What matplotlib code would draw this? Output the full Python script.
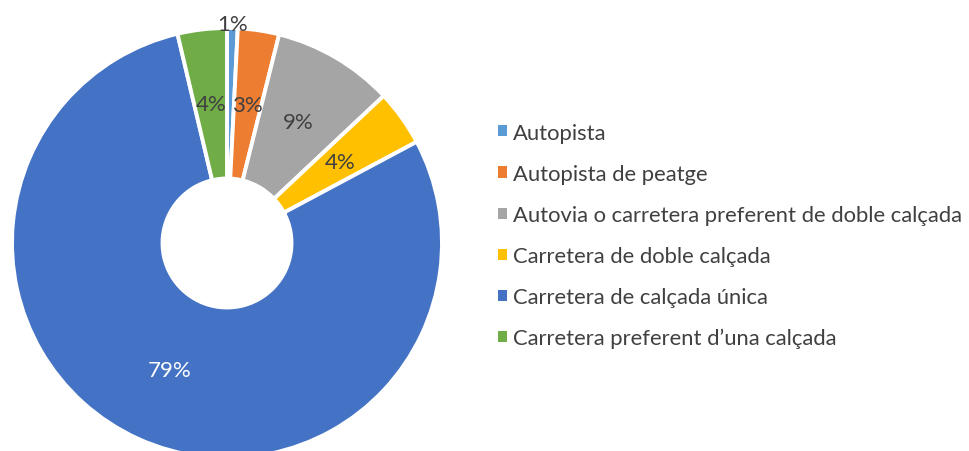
import numpy as np
import matplotlib
matplotlib.use('Agg')
import matplotlib.pyplot as plt

plt.rcParams['font.family'] = ['Lato', 'DejaVu Sans']

labels = ['Autopista', 'Autopista de peatge', 'Autovia o carretera preferent de doble calçada',
          'Carretera de doble calçada', 'Carretera de calçada única', "Carretera preferent d\u2019una calçada"]
shares = [0.8, 3.1, 9.1, 4.2, 79.1, 3.7]
pct_text = ['1%', '3%', '9%', '4%', '79%', '4%']
colors = ['#5B9BD5', '#ED7D31', '#A5A5A5', '#FFC000', '#4472C4', '#70AD47']

fig = plt.figure(figsize=(9.70, 4.52), dpi=100)
# pie axes: centre at (227, 244) px from top, radius 215 px
ax = fig.add_axes([12/970, (452-244-215)/452, 430/970, 430/452])
wedges, _ = ax.pie(shares, colors=colors, startangle=90, counterclock=False, radius=1,
                   wedgeprops=dict(width=0.70, edgecolor='white', linewidth=2.8))
ax.set_xlim(-1, 1)
ax.set_ylim(-1, 1)
ax.set_aspect('equal')
ax.axis('off')

mid_r = (1 + 0.30) / 2
for i, w in enumerate(wedges):
    ang = np.deg2rad((w.theta1 + w.theta2) / 2)
    r = 1.02 if i == 0 else mid_r
    col = 'white' if i == 4 else '#404040'
    ax.text(r*np.cos(ang), r*np.sin(ang), pct_text[i], ha='center', va='center',
            fontsize=16, color=col, clip_on=False)

leg = fig.legend(wedges, labels, loc='upper left', bbox_to_anchor=(489/970, 1-115/452),
                 frameon=False, fontsize=15.8, handlelength=0.4, handleheight=0.4,
                 handletextpad=0.3, labelspacing=0.96, borderaxespad=0)
for t in leg.get_texts():
    t.set_color('#404040')
for h in leg.legend_handles:
    h.set_linewidth(0)

fig.savefig('out.png', dpi=100)
